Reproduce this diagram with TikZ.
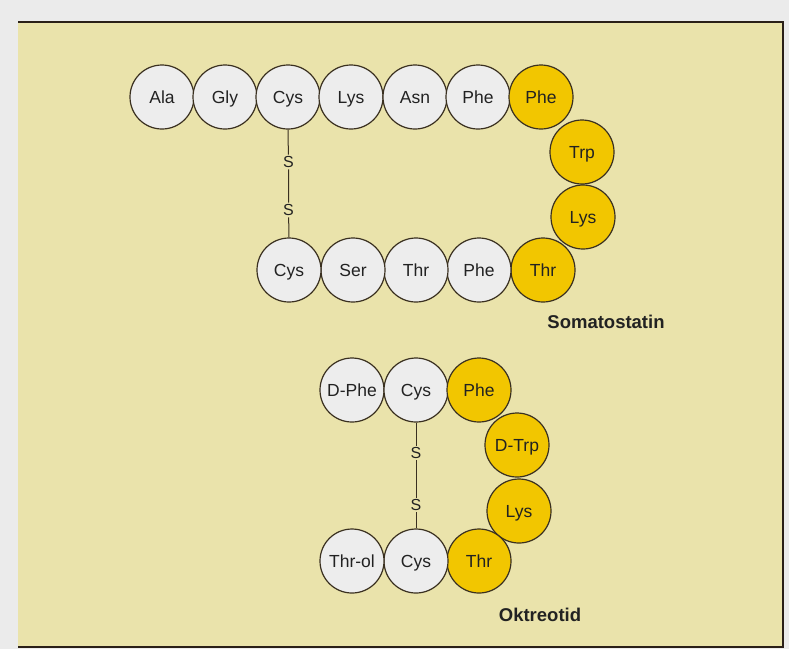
\documentclass[tikz,border=0pt]{standalone}
\usepackage{fontspec}
\setmainfont{Liberation Sans}
\definecolor{bggray}{HTML}{EBEBEB}
\definecolor{beige}{HTML}{EAE3AB}
\definecolor{frameline}{HTML}{2A2018}
\definecolor{ringline}{HTML}{3A3020}
\definecolor{aagray}{HTML}{EDEDED}
\definecolor{aagold}{HTML}{F2C600}
\definecolor{txt}{HTML}{222222}
\tikzset{
  aa/.style={circle, minimum size=64pt, inner sep=0pt, draw=ringline, line width=1.2pt,
             fill=aagray, text=txt, text height=12pt, text depth=0pt,
             font=\fontsize{17.5}{17.5}\selectfont},
  aay/.style={aa, fill=aagold},
  sulf/.style={inner sep=1.5pt, text=txt, font=\fontsize{16}{16}\selectfont},
  bond/.style={draw=ringline, line width=1pt},
  title/.style={text=txt, font=\fontsize{18.5}{18.5}\selectfont\bfseries}
}
\begin{document}
\begin{tikzpicture}[x=1pt,y=-1pt]
\useasboundingbox (0,0) rectangle (789,649);
\fill[bggray] (0,0) rectangle (789,649);
\fill[beige] (18,22) rectangle (783,647);
\draw[frameline, line width=1.5pt] (18,22) -- (783,22) -- (783,647) -- (18,647);
% Somatostatin
\node[aa]  (s1)  at (162,97) {Ala};
\node[aa]  (s2)  at (225,97) {Gly};
\node[aa]  (s3)  at (288,97) {Cys};
\node[aa]  (s4)  at (351,97) {Lys};
\node[aa]  (s5)  at (415,97) {Asn};
\node[aa]  (s6)  at (478,97) {Phe};
\node[aay] (s7)  at (541,97) {Phe};
\node[aay] (s8)  at (582,152) {Trp};
\node[aay] (s9)  at (583,217) {Lys};
\node[aay] (s10) at (543,270) {Thr};
\node[aa]  (s11) at (479,270) {Phe};
\node[aa]  (s12) at (416,270) {Thr};
\node[aa]  (s13) at (353,270) {Ser};
\node[aa]  (s14) at (289,270) {Cys};
\node[sulf] (sa) at (288.5,162) {S};
\node[sulf] (sb) at (288.5,210) {S};
\draw[bond] (s3.south) -- (sa) -- (sb) -- (s14.north);
\node[title] (somlabel) at (606,322) {Somatostatin};
% Oktreotid
\node[aa]  (o1) at (352,390) {D-Phe};
\node[aa]  (o2) at (416,390) {Cys};
\node[aay] (o3) at (479,390) {Phe};
\node[aay] (o4) at (517,445) {D-Trp};
\node[aay] (o5) at (519,511) {Lys};
\node[aay] (o6) at (479,561) {Thr};
\node[aa]  (o7) at (416,561) {Cys};
\node[aa]  (o8) at (352,561) {Thr-ol};
\node[sulf] (oa) at (416,453) {S};
\node[sulf] (ob) at (416,505) {S};
\draw[bond] (o2.south) -- (oa) -- (ob) -- (o7.north);
\node[title] (oktlabel) at (540,615) {Oktreotid};
\end{tikzpicture}
\end{document}
